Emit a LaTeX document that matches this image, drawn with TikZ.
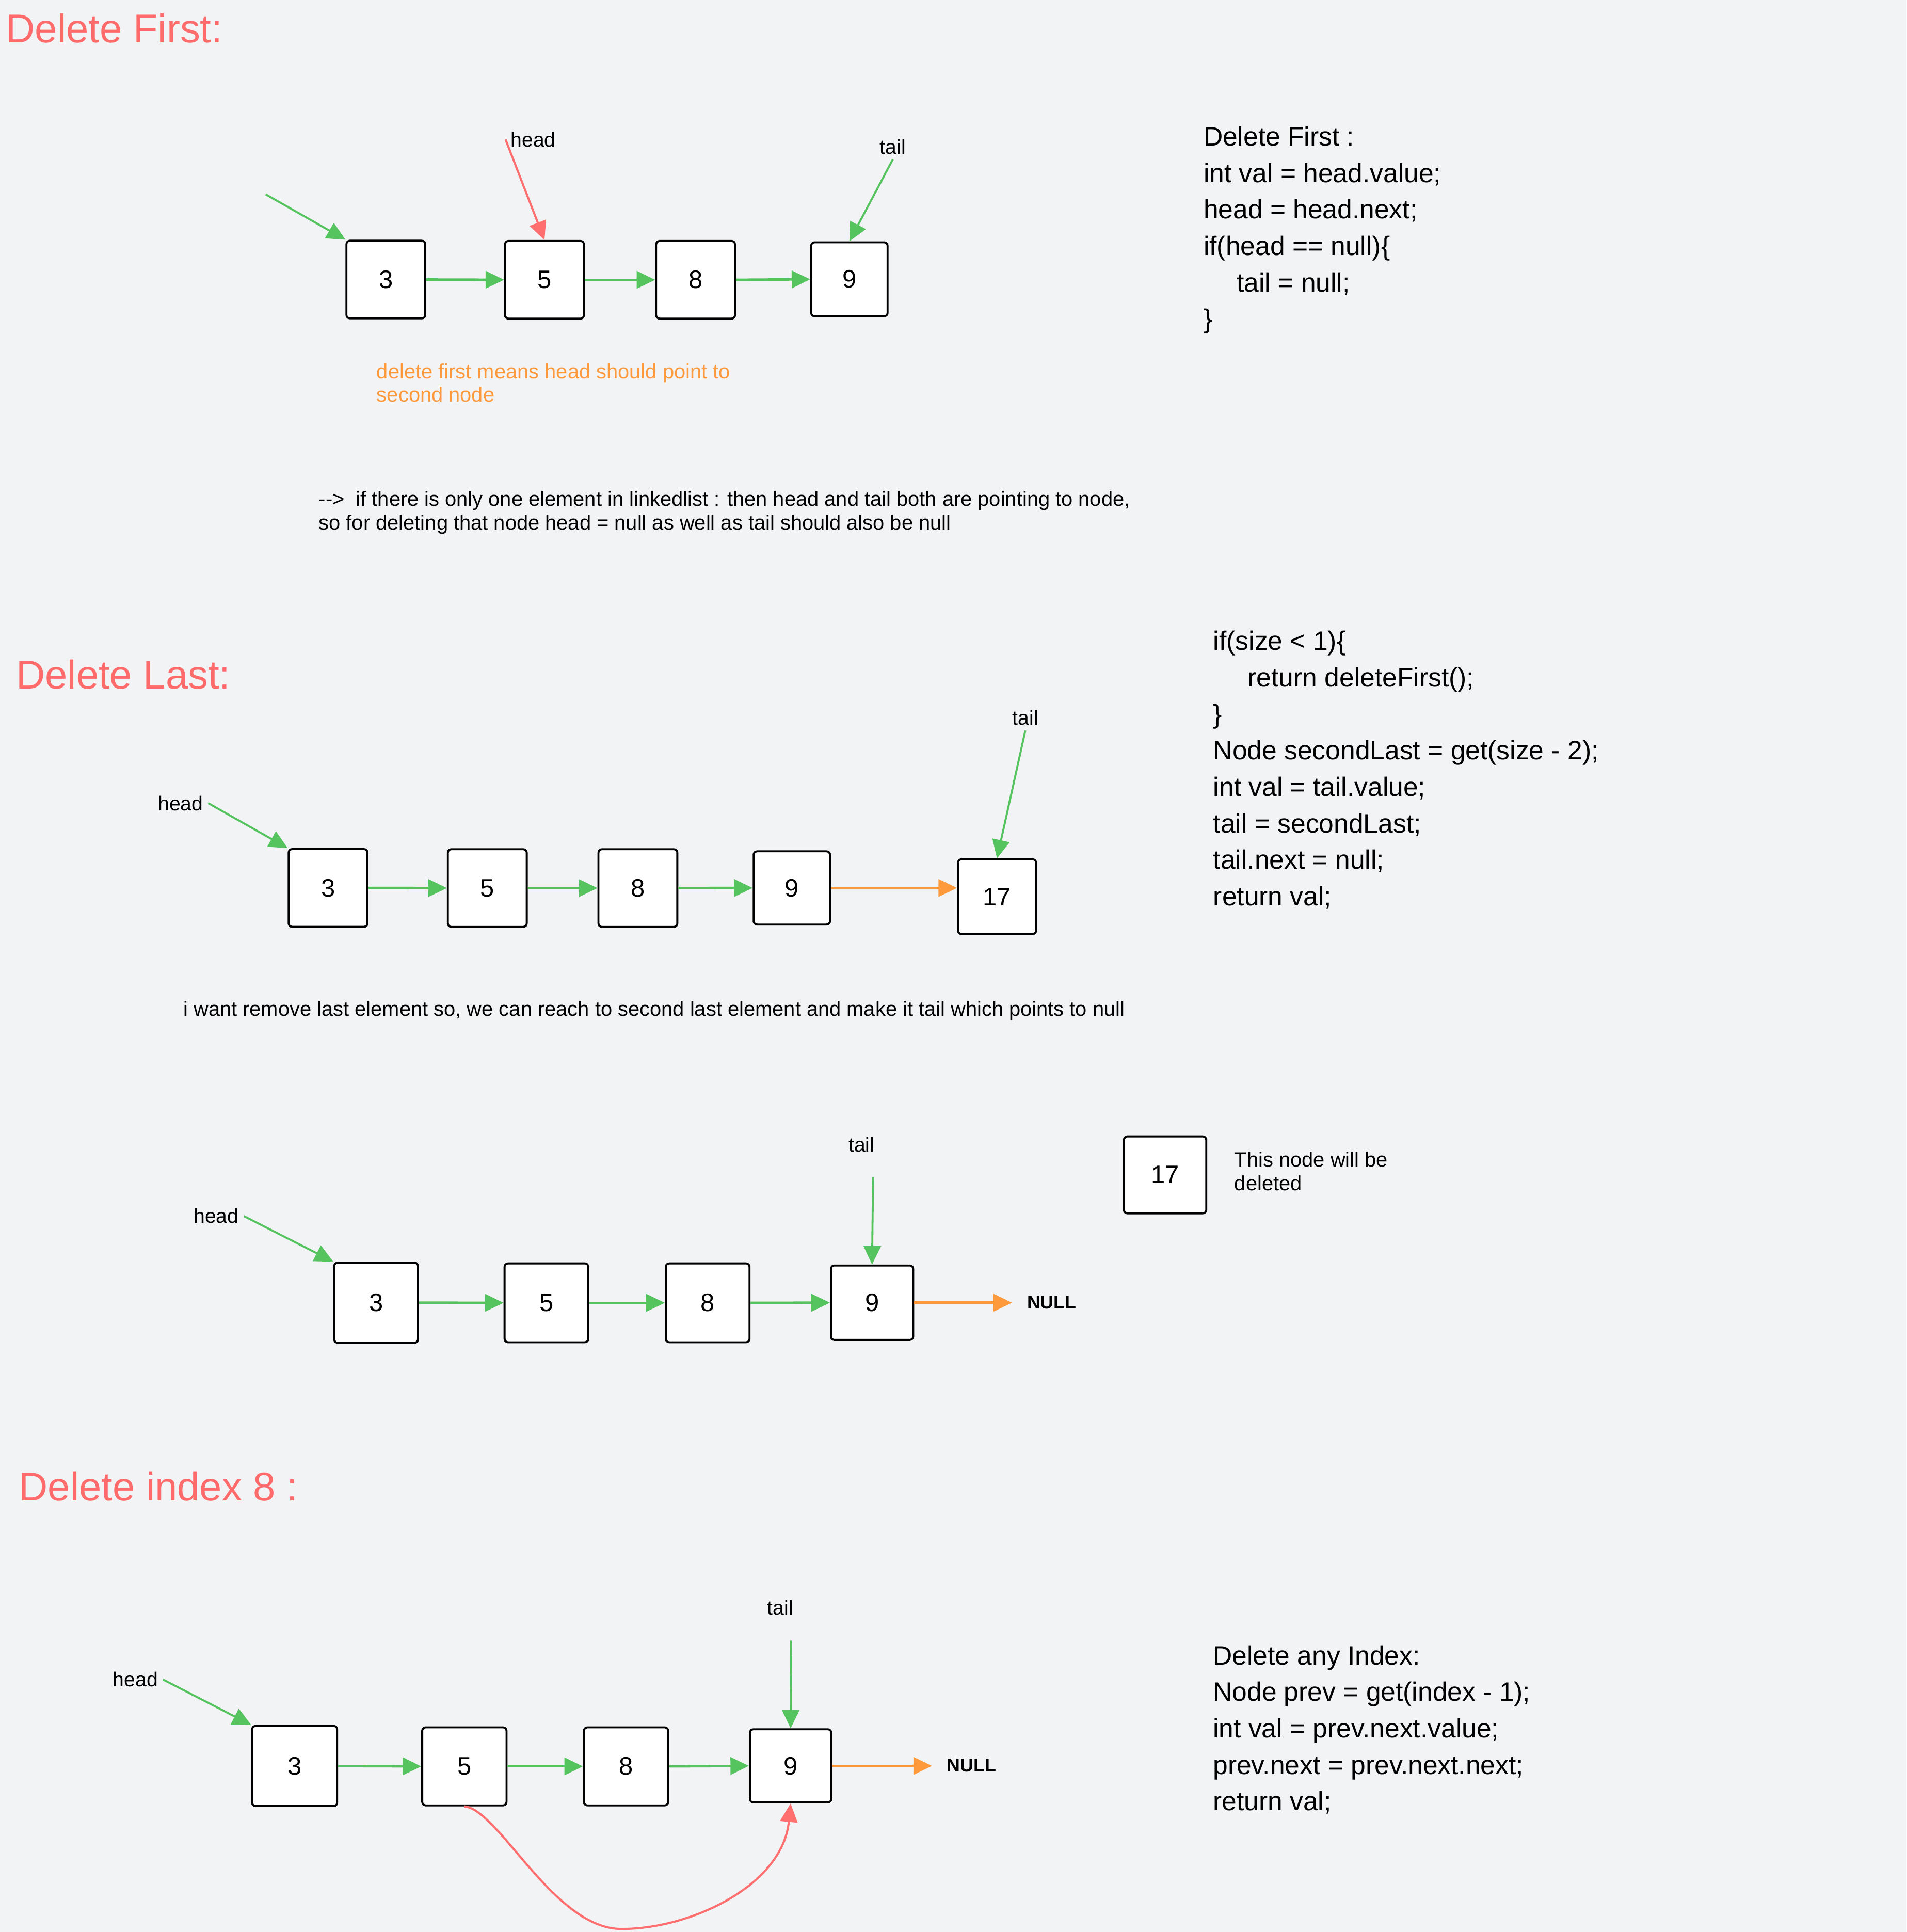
\documentclass[tikz,border=0pt]{standalone}
\usepackage{fontspec}
\setmainfont{Liberation Sans}
\usetikzlibrary{arrows.meta}

\definecolor{canvas}{HTML}{F2F3F5}
\definecolor{ptrgreen}{HTML}{55C45F}
\definecolor{ptrred}{HTML}{FF6F6F}
\definecolor{ptrorange}{HTML}{FF9A3C}
\definecolor{titlered}{HTML}{FF6B6B}

\tikzset{
	cell/.style={draw, line width=1.6pt, rounded corners=2.8pt, fill=white, minimum width=64pt, minimum height=63pt, inner sep=0pt, font=\fontsize{20.5}{24}\selectfont},
	link/.style={draw=ptrgreen, line width=2pt, -{Triangle[length=15pt,width=14pt]}},
	tonull/.style={link, draw=ptrorange},
	pointer/.style={draw=ptrgreen, line width=1.6pt, -{Triangle[length=15pt,width=14pt]}},
	moved/.style={draw=ptrred, line width=1.7pt, -{Triangle[length=15pt,width=14pt]}},
	tag/.style={anchor=base west, inner sep=4pt, font=\fontsize{16.4}{19}\selectfont},
	note/.style={anchor=base west, inner sep=0pt, align=left, font=\fontsize{16.7}{19.2}\selectfont},
	code/.style={anchor=base west, inner sep=0pt, align=left, font=\fontsize{21.6}{29.6}\selectfont},
	title/.style={anchor=base west, inner sep=0pt, text=titlered, font=\fontsize{32.6}{36}\selectfont},
	nullword/.style={anchor=base west, inner xsep=12pt, inner ysep=0pt, font=\fontsize{15}{18}\selectfont\bfseries}
}

\begin{document}
\begin{tikzpicture}[x=1pt,y=-1pt]

		% Canvas
		\useasboundingbox (0,0) rectangle (1547,1567.5);
		\fill[canvas] (0,0) rectangle (1547,1567.5);

		% Delete first
		\node[title] (t1) at (4.7,34.7) {Delete First:};

		\node[cell] (a1) at (313.1,226.8) {3};
		\node[cell] (a2) at (441.8,227) {5};
		\node[cell] (a3) at (564.4,227) {8};
		\node[cell, minimum width=62pt, minimum height=60pt] (a4) at (689.2,226.6) {9};

		\draw[link] (a1.east) -- (a2.west);
		\draw[link] (a2.east) -- (a3.west);
		\draw[link] (a3.east) -- (a4.west);

		\node[tag] (hd1) at (410.2,119) {head};
		\node[tag] (tl1) at (709.8,124.9) {tail};
		\coordinate (in1) at (215.6,157.7);
		\draw[pointer] (in1) -- (a1.north west);
		\draw[moved] (hd1.west) -- (a2.north);
		\draw[pointer] (tl1.south) -- (a4.north);

		% multi-line texts sit on their last line
		\node[note, text=ptrorange] (n1) at (305.5,326.2) {delete first means head should point to\\second node};
		\node[note] (n2) at (258.5,429.8) {\mbox{-}\mbox{-}>\ \ if there is only one element in linkedlist : then head and tail both are pointing to node,\\so for deleting that node head = null as well as tail should also be null};

		\node[code] (c1code) at (976.4,266.3) {Delete First :\\int val = head.value;\\head = head.next;\\if(head == null)\{\\\hspace*{27pt}tail = null;\\\}};

		% Delete last
		\node[title] (t2) at (12.9,559) {Delete Last:};

		\node[cell] (b1) at (266.2,720.4) {3};
		\node[cell] (b2) at (395.4,720.5) {5};
		\node[cell] (b3) at (517.6,720.5) {8};
		\node[cell, minimum width=62pt, minimum height=59.4pt] (b4) at (642.5,720.4) {9};
		\node[cell, minimum width=63.4pt, minimum height=60.6pt] (b5) at (809,727.5) {17};

		\draw[link] (b1.east) -- (b2.west);
		\draw[link] (b2.east) -- (b3.west);
		\draw[link] (b3.east) -- (b4.west);
		\draw[tonull] (b4.east) -- (b4.east -| b5.west);

		\node[tag] (hd2) at (124.1,657.5) {head};
		\node[tag] (tl2) at (817.3,588.3) {tail};
		\draw[pointer] (hd2.east) -- (b1.north west);
		\draw[pointer] (tl2.south) -- (b5.north);

		\node[note] (n3) at (148.6,824.2) {i want remove last element so, we can reach to second last element and make it tail which points to null};

		\node[code] (c2code) at (984.3,734.8) {if(size < 1)\{\\\hspace*{28pt}return deleteFirst();\\\}\\Node secondLast = get(size - 2);\\int val = tail.value;\\tail = secondLast;\\tail.next = null;\\return val;};

		% After delete last
		\node[cell, minimum width=68pt, minimum height=65pt] (c1) at (305.2,1056.9) {3};
		\node[cell, minimum width=68pt, minimum height=64pt] (c2) at (443.4,1057) {5};
		\node[cell, minimum width=68pt, minimum height=64pt] (c3) at (574.2,1057) {8};
		\node[cell, minimum width=66.8pt, minimum height=60.4pt] (c4) at (707.6,1056.9) {9};
		\node[nullword] (nl3) at (821.2,1061.6) {NULL};

		\draw[link] (c1.east) -- (c2.west);
		\draw[link] (c2.east) -- (c3.west);
		\draw[link] (c3.east) -- (c4.west);
		\draw[tonull] (c4.east) -- (c4.east -| nl3.west);

		\node[tag] (hd3) at (153,992.5) {head};
		\node[tag] (tl3) at (684.4,934.6) {tail};
		\coordinate (tp3) at (708.4,954.8);
		\draw[pointer] (hd3.east) -- (c1.north west);
		\draw[pointer] (tp3) -- (c4.north);

		\node[cell, minimum width=66.8pt, minimum height=62.4pt] (gone) at (945.4,953.2) {17};
		\node[note] (n4) at (1001.5,965.9) {This node will be\\deleted};

		% Delete index
		\node[title] (t3) at (15.1,1217.8) {Delete index 8 :};

		\node[cell, minimum width=69pt, minimum height=65pt] (d1) at (239.1,1432.8) {3};
		\node[cell, minimum width=68.4pt, minimum height=63.3pt] (d2) at (376.8,1433.1) {5};
		\node[cell, minimum width=68.4pt, minimum height=63.3pt] (d3) at (508,1433.1) {8};
		\node[cell, minimum width=66pt, minimum height=59.4pt] (d4) at (641.5,1432.7) {9};
		\node[nullword] (nl4) at (756.2,1437.5) {NULL};

		\draw[link] (d1.east) -- (d2.west);
		\draw[link] (d2.east) -- (d3.west);
		\draw[link] (d3.east) -- (d4.west);
		\draw[tonull] (d4.east) -- (d4.east -| nl4.west);

		\node[tag] (hd4) at (87.4,1368.5) {head};
		\node[tag] (tl4) at (618.4,1310) {tail};
		\coordinate (tp4) at (642,1331);
		\draw[pointer] (hd4.east) -- (d1.north west);
		\draw[pointer] (tp4) -- (d4.north);

		% Skip over the deleted node
		\draw[moved] (d2.south) .. controls (405,1468) and (450,1566) .. (505,1565) .. controls (560,1565) and (635,1530) .. (d4.south);

		\node[code] (c3code) at (984.1,1469) {Delete any Index:\\Node prev = get(index - 1);\\int val = prev.next.value;\\prev.next = prev.next.next;\\return val;};

	\end{tikzpicture}
\end{document}
